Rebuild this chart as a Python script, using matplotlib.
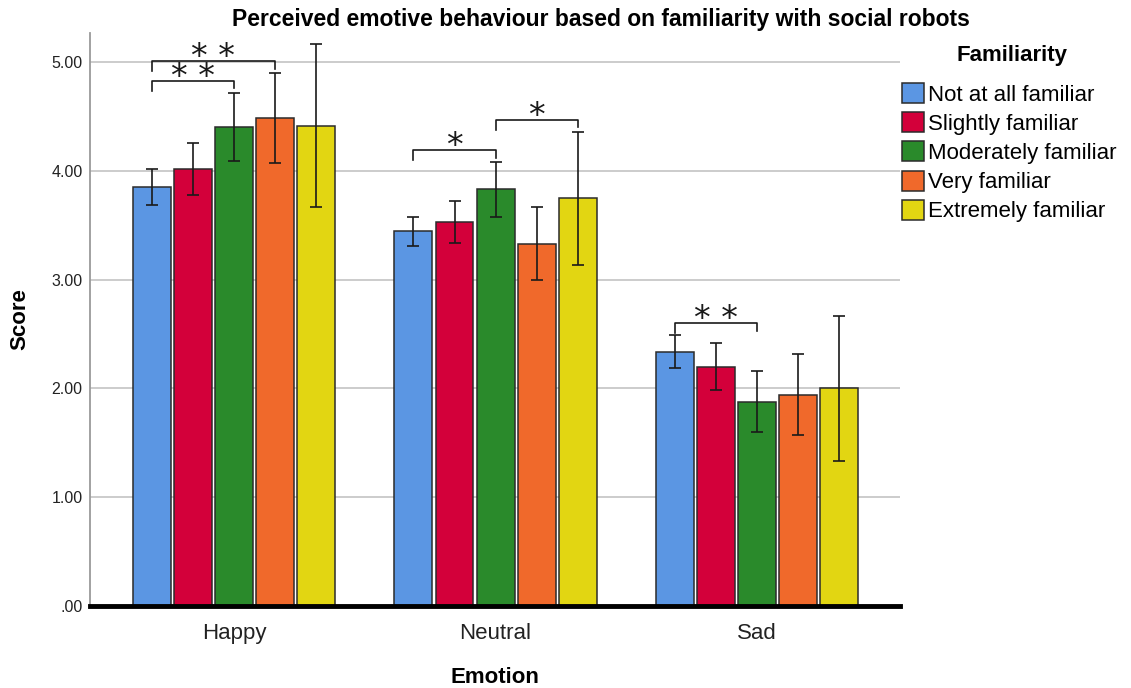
import matplotlib
matplotlib.use('Agg')
from matplotlib import pyplot as plt
from matplotlib.ticker import FuncFormatter
import numpy as np

plt.rcParams['font.family'] = ['Liberation Sans', 'DejaVu Sans']

emotions = ['Happy', 'Neutral', 'Sad']
familiarity = [
    'Not at all familiar',
    'Slightly familiar',
    'Moderately familiar',
    'Very familiar',
    'Extremely familiar',
]
bar_colors = ['#5b96e3', '#d3003a', '#2a8a2b', '#f0692b', '#e2d612']

# mean score per familiarity level, one value per emotion
mean_score = [
    [3.85, 3.45, 2.34],
    [4.02, 3.53, 2.20],
    [4.40, 3.83, 1.88],
    [4.49, 3.33, 1.94],
    [4.41, 3.75, 2.00],
]
# 95% CI bounds
ci_low = [
    [3.69, 3.31, 2.19],
    [3.78, 3.34, 1.99],
    [4.09, 3.58, 1.60],
    [4.07, 3.00, 1.57],
    [3.67, 3.14, 1.33],
]
ci_high = [
    [4.02, 3.58, 2.49],
    [4.26, 3.72, 2.42],
    [4.72, 4.08, 2.16],
    [4.90, 3.67, 2.32],
    [5.17, 4.36, 2.67],
]
# significant pairwise differences: (emotion, level a, level b, marker)
sig_pairs = [
    (0, 0, 2, '* *'),
    (0, 0, 3, '* *'),
    (1, 0, 2, '*'),
    (1, 2, 4, '*'),
    (2, 0, 2, '* *'),
]

BAR_WIDTH = 0.145
BAR_STEP = 0.157

fig = plt.figure(figsize=(11.31, 6.88), dpi=100)
ax = fig.add_axes([0.0796, 0.1192, 0.716, 0.833])

x = np.arange(len(emotions))
n_levels = len(familiarity)
offsets = (np.arange(n_levels) - (n_levels - 1) / 2) * BAR_STEP

for i, level in enumerate(familiarity):
    means = np.array(mean_score[i])
    err = [means - np.array(ci_low[i]), np.array(ci_high[i]) - means]
    ax.bar(x + offsets[i], means, BAR_WIDTH, color=bar_colors[i],
           edgecolor='#2b2b2b', linewidth=1.1, label=level, zorder=3)
    ax.errorbar(x + offsets[i], means, yerr=err, fmt='none', ecolor='#1a1a1a',
                elinewidth=1.2, capsize=4, capthick=1.2, zorder=4)

# brackets sit a little above the highest CI they span
for emo, a, b, marker in sig_pairs:
    xa = x[emo] + offsets[a]
    xb = x[emo] + offsets[b]
    top = max(ci_high[k][emo] for k in range(a, b + 1)) + 0.11
    ax.plot([xa, xa, xb, xb], [top - 0.09, top, top, top - 0.07],
            color='#1a1a1a', linewidth=1.2, zorder=5)
    ax.text((xa + xb) / 2, top - 0.12, marker, ha='center', va='bottom',
            fontsize=24, family='DejaVu Sans', color='#1a1a1a', zorder=5)

ax.set_xlim(-0.55, 2.545)
ax.set_ylim(0, 5.27)
ax.set_yticks([0, 1, 2, 3, 4, 5])
ax.yaxis.set_major_formatter(FuncFormatter(lambda v, _: f'{v:.2f}'.lstrip('0')))
ax.set_xticks(x)
ax.set_xticklabels(emotions, fontsize=16, color='#222222')
ax.tick_params(axis='y', length=0, labelsize=11.5, pad=5.5, labelcolor='#222222')
ax.tick_params(axis='x', length=0, pad=12)
ax.grid(axis='y', color='#c8c8c8', linewidth=1.3, zorder=0)

for side in ('top', 'right'):
    ax.spines[side].set_visible(False)
ax.spines['left'].set_color('#9a9a9a')
ax.spines['left'].set_linewidth(1.3)
ax.spines['bottom'].set_color('black')
ax.spines['bottom'].set_linewidth(3.5)
ax.spines['bottom'].set_zorder(6)

ax.set_xlabel('Emotion', fontsize=16, fontweight='bold', labelpad=17)
ax.set_ylabel('Score', fontsize=16, fontweight='bold')
ax.yaxis.set_label_coords(-0.074, 0.5)
ax.set_title('Perceived emotive behaviour based on familiarity with social robots',
             fontsize=16.5, fontweight='bold', pad=5, x=0.631)

fig.text(1012 / 1131, 1 - 55 / 688, 'Familiarity', ha='center', va='center',
         fontsize=16, fontweight='bold')
ax.legend(loc='upper left', bbox_to_anchor=(902 / 1131, 1 - 83 / 688),
          bbox_transform=fig.transFigure, frameon=False, fontsize=16,
          handlelength=1.0, handleheight=1.0, handletextpad=0.15,
          labelspacing=0.3, borderaxespad=0, borderpad=0)

fig.savefig('out.png', dpi=100)
